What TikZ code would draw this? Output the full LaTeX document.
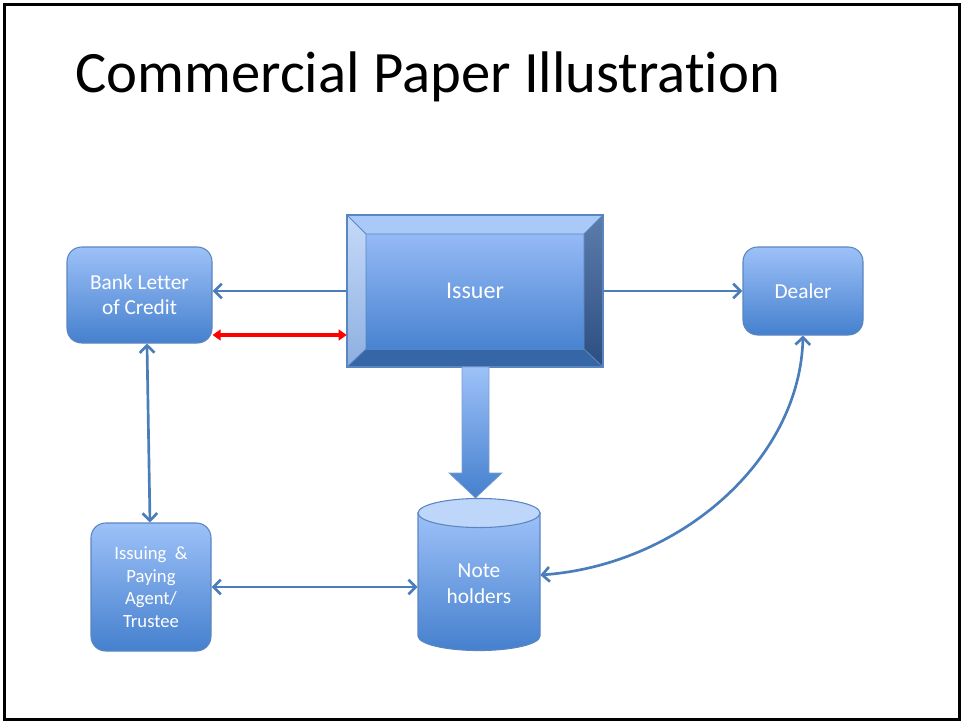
\documentclass[tikz,border=0pt]{standalone}
\usepackage{fontspec}
\setmainfont{Carlito}[Ligatures=NoCommon]
\usetikzlibrary{arrows.meta,calc}
\definecolor{bdr}{HTML}{5A86C0}
\definecolor{conn}{HTML}{4A7EBB}
\definecolor{boxtop}{HTML}{9DC1F8}
\definecolor{boxbot}{HTML}{4580CE}
\definecolor{facetop}{HTML}{95BAF6}
\definecolor{facebot}{HTML}{4883D0}
\definecolor{bandtop}{HTML}{A9C9F8}
\definecolor{leftA}{HTML}{C6DAF9}
\definecolor{leftB}{HTML}{8CAFE0}
\definecolor{rightA}{HTML}{5C7CAC}
\definecolor{rightB}{HTML}{2C4E80}
\definecolor{bandbot}{HTML}{3766A6}
\definecolor{cyltop}{HTML}{BED6F9}
\tikzset{
  pbox/.style={draw=bdr, line width=0.8pt, rounded corners=11pt, top color=boxtop, bottom color=boxbot,
    text=white, align=center, inner sep=0pt},
  conn/.style={draw=conn, line width=2pt}
}
\begin{document}
\begin{tikzpicture}[x=0.75pt,y=-0.75pt]
\useasboundingbox (0,0) rectangle (961,721);
\draw[black, line width=1.6pt] (4.5,4.5) rectangle (959.5,719.5);

\node[anchor=base west, inner sep=0pt, font=\fontsize{44pt}{52pt}\selectfont] (title) at (75,92) {Commercial Paper Illustration};

% boxes
\node[pbox, minimum width=108.75pt, minimum height=72pt, font=\fontsize{16pt}{18.75pt}\selectfont] (bank) at (139.5,295) {Bank Letter\\of Credit};
\node[pbox, minimum width=90pt, minimum height=66pt, font=\fontsize{16pt}{18pt}\selectfont] (dealer) at (803,291) {Dealer};
\node[pbox, minimum width=90pt, minimum height=96pt, font=\fontsize{14pt}{17pt}\selectfont] (agent) at (151,587) {Issuing~~\&\\Paying\\Agent/\\Trustee};

% issuer bevel
\fill[bandtop] (347,215) -- (603,215) -- (584,234) -- (366,234) -- cycle;
\shade[top color=leftA, bottom color=leftB] (347,215) -- (366,234) -- (366,349) -- (347,367) -- cycle;
\shade[top color=rightA, bottom color=rightB] (603,215) -- (603,367) -- (584,349) -- (584,234) -- cycle;
\fill[bandbot] (347,367) -- (366,349) -- (584,349) -- (603,367) -- cycle;
\shade[top color=facetop, bottom color=facebot] (366,234) rectangle (584,349);
\draw[bdr, line width=0.6pt] (347,215) -- (366,234) (603,215) -- (584,234) (347,367) -- (366,349) (603,367) -- (584,349) (366,234) rectangle (584,349);
\draw[bdr, line width=0.9pt] (347,215) rectangle (603,367);
\node[minimum width=192pt, minimum height=114pt, inner sep=0pt, text=white, font=\fontsize{18pt}{22pt}\selectfont] (issuer) at (475,291) {Issuer};

% note holders cylinder
\shade[top color=boxtop, bottom color=boxbot, draw=bdr, line width=0.8pt]
  (418,513) -- (418,636) arc[start angle=180, end angle=360, x radius=45.75pt, y radius=10.9pt] -- (540,513) -- cycle;
\filldraw[fill=cyltop, draw=bdr, line width=0.8pt] (479,513) ellipse[x radius=45.75pt, y radius=10.9pt];
\node[minimum width=91.5pt, minimum height=114pt, inner sep=0pt] (notes) at (479,575) {};
\node[text=white, align=center, font=\fontsize{16pt}{19.5pt}\selectfont] (notestext) at (479,584) {Note\\holders};

% big arrow
\shade[top color=boxtop, bottom color=boxbot, draw=bdr!80, line width=0.5pt]
  (462,367) -- (489,367) -- (489,473) -- (502,473) -- (475.5,498) -- (449,473) -- (462,473) -- cycle;

% connectors
\draw[conn, -{Straight Barb[length=5.5pt,width=11pt]}] (issuer.west) -- (issuer.west -| bank.east);
\draw[conn, -{Straight Barb[length=5.5pt,width=11pt]}] (issuer.east) -- (issuer.east -| dealer.west);
\path (bank.east) ++(0,40) coordinate (r1);
\draw[red, line width=2.3pt, {Triangle[length=6pt,width=8pt]}-{Triangle[length=6pt,width=8pt]}] (r1) -- (r1 -| issuer.west);
\draw[conn, {Straight Barb[length=5.5pt,width=11pt]}-{Straight Barb[length=5.5pt,width=11pt]}] ([xshift=5.6pt]bank.south) -- ([xshift=-0.75pt]agent.north);
\draw[conn, {Straight Barb[length=5.5pt,width=11pt]}-{Straight Barb[length=5.5pt,width=11pt]}] (agent.east) -- (agent.east -| notes.west);
\draw[conn, {Straight Barb[length=5.5pt,width=11pt]}-{Straight Barb[length=5.5pt,width=11pt]}] (dealer.south) .. controls (800,460) and (680,565) .. (notes.east);
\end{tikzpicture}
\end{document}
